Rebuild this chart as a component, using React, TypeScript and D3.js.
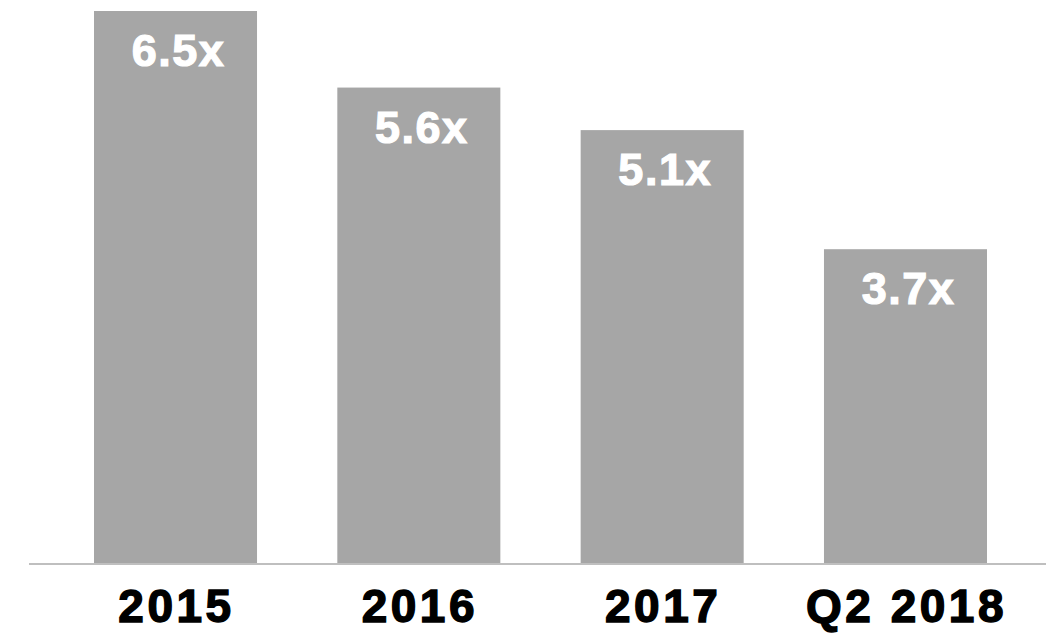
import React from "react";
import * as d3 from "d3";

const categories = ["2015", "2016", "2017", "Q2 2018"];
const values = [6.5, 5.6, 5.1, 3.7];
const valueLabels = ["6.5x", "5.6x", "5.1x", "3.7x"];

export default function App() {
  const W = 1062;
  const H = 633;
  const baseY = 564;
  const x = d3.scaleBand<string>().domain(categories).range([94, 987]).paddingInner(0.33).paddingOuter(0);
  const y = d3.scaleLinear().domain([0, 6.5]).range([baseY, 11]);
  const font = "'Liberation Sans', Arial, sans-serif";
  return (
    <svg
      width={W}
      height={H}
      style={{ position: "fixed", left: 0, top: 0, background: "#fff" }}
    >
      {categories.map((c, i) => {
        const x0 = x(c)!;
        const bw = x.bandwidth();
        const top = y(values[i]);
        return (
          <g key={c}>
            <rect x={x0} y={top} width={bw} height={baseY - top} fill="#a6a6a6" />
            <text
              x={x0 + bw / 2 + 3}
              y={top + 55}
              textAnchor="middle"
              fill="#ffffff"
              stroke="#ffffff"
              strokeWidth={1.2}
              fontFamily={font}
              fontWeight="bold"
              fontSize={45}
              letterSpacing={1.5}
            >
              {valueLabels[i]}
            </text>
            <text
              x={x0 + bw / 2 + 1}
              y={622}
              textAnchor="middle"
              fill="#000"
              stroke="#000"
              strokeWidth={1.4}
              fontFamily={font}
              fontWeight="bold"
              fontSize={46}
              letterSpacing={3.5}
            >
              {c}
            </text>
          </g>
        );
      })}
      <line x1={29} x2={1046} y1={baseY} y2={baseY} stroke="#bfbfbf" strokeWidth={2} />
    </svg>
  );
}
